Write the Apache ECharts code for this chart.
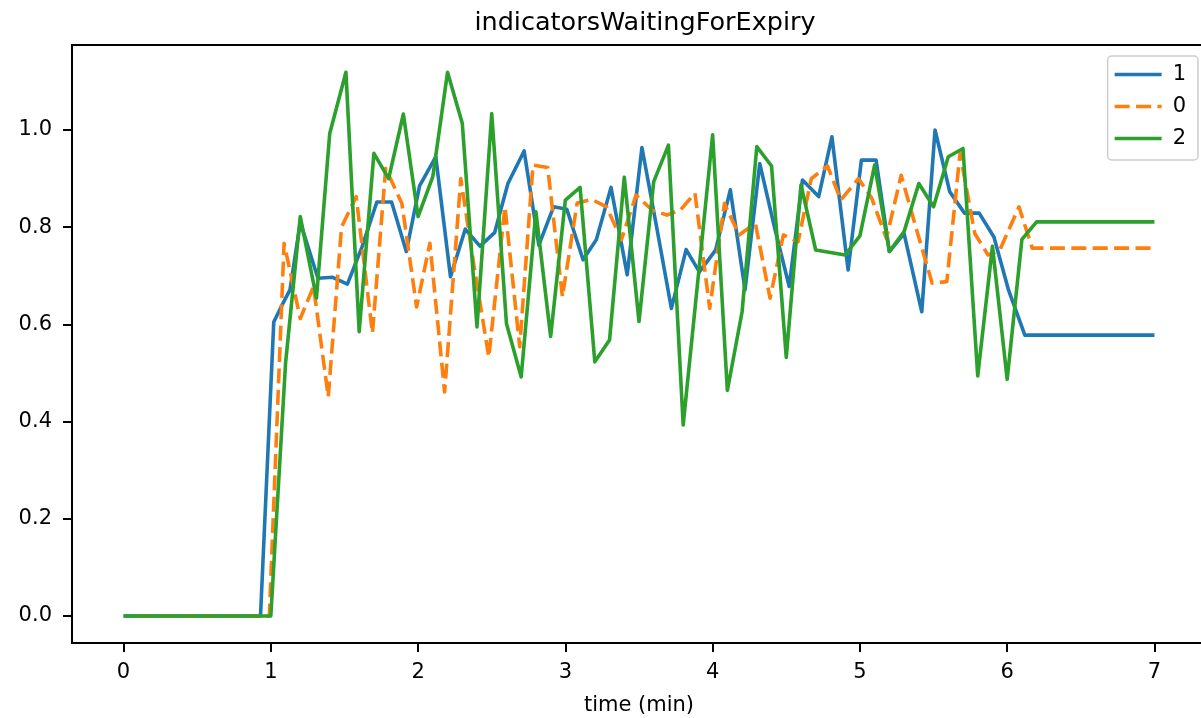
<!DOCTYPE html>
<html>
<head>
<meta charset="utf-8">
<script src="https://cdn.jsdelivr.net/npm/echarts@6/dist/echarts.min.js"></script>
<style>html,body{margin:0;padding:0;background:#fff;}#c{width:1201px;height:718px;}</style>
</head>
<body>
<div id="c"></div>
<script>
const titleText = 'indicatorsWaitingForExpiry';
const xTicks = [0, 1, 2, 3, 4, 5, 6, 7];
const yTicks = [0, 0.2, 0.4, 0.6, 0.8, 1.0];
const seriesNames = ['1', '0', '2'];

const s1 = [[0,0],[0.93,0],[1.02,0.605],[1.07,0.636],[1.13,0.671],[1.2,0.81],[1.32,0.695],[1.42,0.697],[1.52,0.683],[1.62,0.76],[1.72,0.852],[1.82,0.852],[1.92,0.75],[2.01,0.885],[2.12,0.945],[2.22,0.698],[2.32,0.796],[2.42,0.761],[2.52,0.789],[2.61,0.89],[2.72,0.957],[2.82,0.763],[2.92,0.842],[3.01,0.837],[3.12,0.733],[3.21,0.774],[3.31,0.882],[3.42,0.702],[3.52,0.964],[3.62,0.80],[3.72,0.633],[3.82,0.754],[3.91,0.708],[4.02,0.753],[4.12,0.877],[4.22,0.671],[4.32,0.931],[4.42,0.80],[4.52,0.678],[4.61,0.897],[4.72,0.863],[4.81,0.986],[4.92,0.712],[5.01,0.938],[5.11,0.938],[5.2,0.75],[5.3,0.787],[5.42,0.626],[5.51,1.0],[5.61,0.873],[5.71,0.829],[5.81,0.829],[5.91,0.78],[6.01,0.67],[6.12,0.578],[7.0,0.578]];
const s0 = [[0.1,0],[0.99,0],[1.09,0.767],[1.2,0.612],[1.29,0.678],[1.39,0.451],[1.48,0.80],[1.58,0.863],[1.69,0.582],[1.78,0.921],[1.89,0.849],[1.99,0.636],[2.08,0.767],[2.18,0.461],[2.29,0.90],[2.38,0.72],[2.48,0.533],[2.59,0.842],[2.69,0.554],[2.78,0.928],[2.88,0.923],[2.98,0.657],[3.08,0.85],[3.18,0.857],[3.28,0.842],[3.38,0.774],[3.48,0.866],[3.59,0.835],[3.69,0.825],[3.78,0.835],[3.88,0.87],[3.98,0.633],[4.08,0.849],[4.18,0.784],[4.29,0.808],[4.39,0.654],[4.48,0.784],[4.58,0.77],[4.67,0.90],[4.78,0.926],[4.87,0.856],[4.99,0.90],[5.08,0.86],[5.18,0.777],[5.28,0.907],[5.38,0.80],[5.49,0.685],[5.59,0.688],[5.68,0.952],[5.78,0.787],[5.87,0.743],[5.95,0.753],[6.08,0.842],[6.17,0.757],[6.99,0.757]];
const s2 = [[0,0],[1.0,0],[1.1,0.52],[1.2,0.822],[1.31,0.654],[1.4,0.993],[1.51,1.119],[1.6,0.585],[1.7,0.952],[1.8,0.90],[1.9,1.033],[2.0,0.822],[2.1,0.904],[2.2,1.119],[2.3,1.014],[2.4,0.595],[2.5,1.034],[2.6,0.602],[2.7,0.492],[2.8,0.832],[2.9,0.575],[3.0,0.856],[3.1,0.882],[3.2,0.523],[3.3,0.568],[3.4,0.903],[3.5,0.606],[3.6,0.894],[3.7,0.969],[3.8,0.393],[4.0,0.99],[4.1,0.464],[4.2,0.626],[4.3,0.966],[4.4,0.926],[4.5,0.532],[4.6,0.887],[4.7,0.753],[4.9,0.743],[5.0,0.782],[5.1,0.928],[5.2,0.75],[5.3,0.791],[5.4,0.89],[5.5,0.842],[5.6,0.945],[5.7,0.962],[5.8,0.494],[5.9,0.761],[6.0,0.487],[6.1,0.775],[6.2,0.811],[7.0,0.811]];

const font = 'DejaVu Sans';
const colors = ['#1f77b4', '#ff7f0e', '#2ca02c'];
const chart = echarts.init(document.getElementById('c'), null, {renderer: 'canvas'});
const mk = (name, data, color, type) => ({
  name: name, type: 'line', data: data, symbol: 'none', showSymbol: false,
  lineStyle: {color: color, width: 3.6, type: type, cap: 'butt', join: 'round'},
  itemStyle: {color: color}, animation: false, z: 3
});
const solidIcon = 'path://M0,0h47v3.4h-47z';
const dashIcon = 'path://M0,0h15v3.4h-15zM21.4,0h15v3.4h-15zM42.8,0h4.2v3.4h-4.2z';
chart.setOption({
  animation: false,
  backgroundColor: '#fff',
  title: {text: titleText, left: 640, textAlign: 'center', top: 5,
    textStyle: {fontFamily: font, fontSize: 25.5, fontWeight: 'normal', color: '#000'}},
  grid: {left: 72, right: -5, top: 45, bottom: 75, show: false, outerBoundsMode: 'none', containLabel: false},
  legend: {
    right: 3, top: 56, orient: 'vertical', itemWidth: 47, itemHeight: 3.4, itemGap: 11,
    padding: [8, 12, 11, 7], borderColor: '#ccc', borderWidth: 1.5, borderRadius: 4,
    backgroundColor: 'rgba(255,255,255,0.8)',
    textStyle: {fontFamily: font, fontSize: 21, lineHeight: 20, color: '#000', padding: [0,0,0,6]},
    data: [
      {name: seriesNames[0], icon: solidIcon, itemStyle: {color: colors[0]}},
      {name: seriesNames[1], icon: dashIcon, itemStyle: {color: colors[1]}},
      {name: seriesNames[2], icon: solidIcon, itemStyle: {color: colors[2]}}
    ]
  },
  xAxis: [{
    type: 'value', min: -0.35, max: 7.35, position: 'bottom',
    name: 'time (min)', nameLocation: 'middle', nameGap: 52,
    nameTextStyle: {fontFamily: font, fontSize: 21, color: '#000'},
    axisLine: {show: true, onZero: false, lineStyle: {color: '#000', width: 2}},
    axisTick: {show: true, length: 9, inside: false, customValues: xTicks, lineStyle: {color: '#000', width: 2}},
    axisLabel: {customValues: xTicks, fontFamily: font, fontSize: 21, color: '#000', margin: 19, formatter: v => String(v)},
    splitLine: {show: false}
  }, {
    type: 'value', min: -0.35, max: 7.35, position: 'top',
    axisLine: {show: true, onZero: false, lineStyle: {color: '#000', width: 2}},
    axisTick: {show: false}, axisLabel: {show: false}, splitLine: {show: false}
  }],
  yAxis: [{
    type: 'value', min: -0.0556, max: 1.175, position: 'left',
    axisLine: {show: true, onZero: false, lineStyle: {color: '#000', width: 2}},
    axisTick: {show: true, length: 9, inside: false, customValues: yTicks, lineStyle: {color: '#000', width: 2}},
    axisLabel: {customValues: yTicks, fontFamily: font, fontSize: 21, color: '#000', margin: 20, formatter: v => v.toFixed(1)},
    splitLine: {show: false}
  }],
  series: [
    mk(seriesNames[0], s1, colors[0], 'solid'),
    mk(seriesNames[1], s0, colors[1], [15, 6.4]),
    mk(seriesNames[2], s2, colors[2], 'solid')
  ]
});
</script>
</body>
</html>
